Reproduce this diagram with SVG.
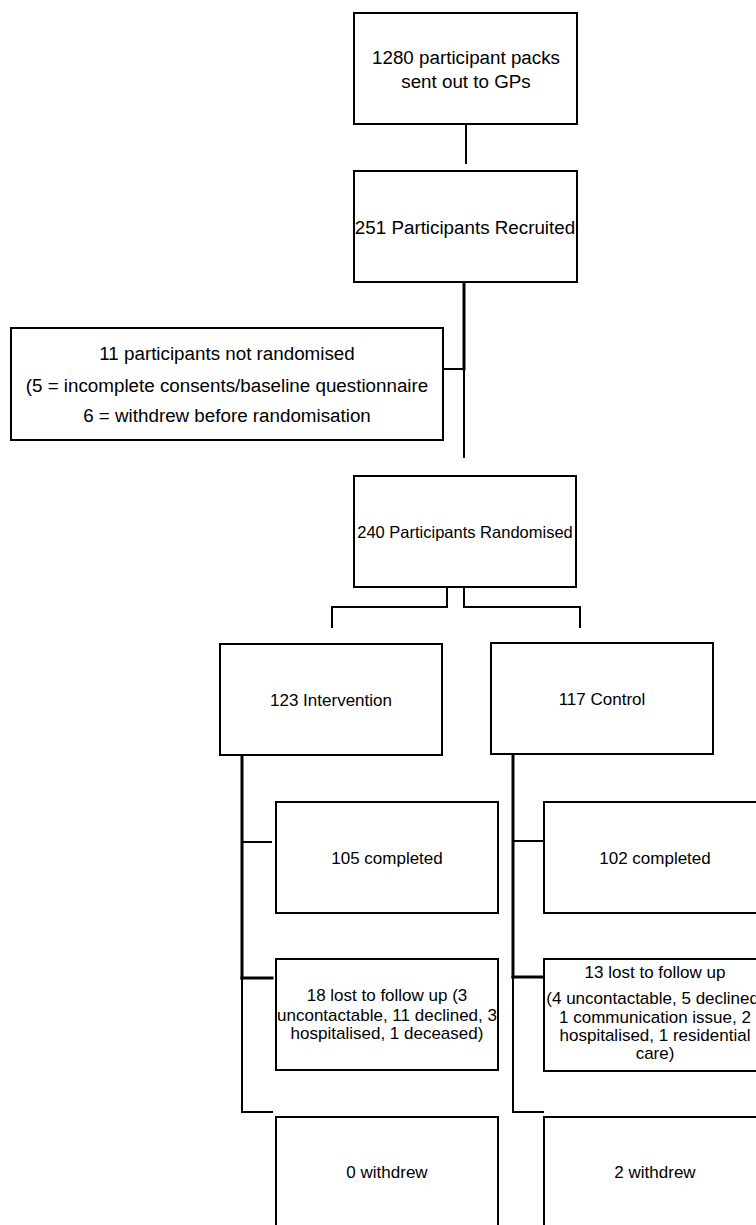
<svg xmlns="http://www.w3.org/2000/svg" width="756" height="1225" viewBox="0 0 756 1225">
<style>
.box{fill:#fff;stroke:#000;stroke-width:2}
.t{font-family:"Liberation Sans",Arial,sans-serif;fill:#000;text-anchor:middle}
.big{font-size:18.8px}
.mid{font-size:17px}
.sm{font-size:16.5px}
.c{fill:none;stroke:#000;stroke-linecap:square}
.thin{stroke-width:2}
.thick{stroke-width:3}
</style>
<rect width="756" height="1225" fill="#fff"/>
<g id="connectors">
<line class="c thin" x1="466" y1="125" x2="466" y2="163"/>
<line class="c thick" x1="464" y1="283" x2="464" y2="369"/>
<line class="c thin" x1="464" y1="369" x2="464" y2="457"/>
<line class="c thin" x1="443" y1="369" x2="464" y2="369"/>
<polyline class="c thin" points="447,588 447,607 332,607 332,627"/>
<polyline class="c thin" points="464,588 464,607 580,607 580,627"/>
<line class="c thick" x1="242" y1="756" x2="242" y2="978"/>
<polyline class="c thin" points="242,978 242,1112 272,1112"/>
<line class="c thin" x1="242" y1="842" x2="271" y2="842"/>
<line class="c thick" x1="242" y1="978" x2="272" y2="978"/>
<line class="c thick" x1="513" y1="755" x2="513" y2="977"/>
<polyline class="c thin" points="513,977 513,1112 543,1112"/>
<line class="c thin" x1="513" y1="841" x2="542" y2="841"/>
<line class="c thick" x1="513" y1="977" x2="543" y2="977"/>
</g>
<g id="packs">
<rect class="box" x="354" y="13" width="223" height="111"/>
<text class="t big" x="466" y="64">1280 participant packs</text>
<text class="t big" x="466" y="88">sent out to GPs</text>
</g>
<g id="recruited">
<rect class="box" x="354" y="171" width="223" height="111"/>
<text class="t big" x="465" y="234">251 Participants Recruited</text>
</g>
<g id="not-randomised">
<rect class="box" x="11" y="328" width="432" height="112"/>
<text class="t big" x="227" y="360">11 participants not randomised</text>
<text class="t big" x="227" y="392">(5 = incomplete consents/baseline questionnaire</text>
<text class="t big" x="227" y="422">6 = withdrew before randomisation</text>
</g>
<g id="randomised">
<rect class="box" x="354" y="476" width="222" height="111"/>
<text class="t sm" x="465" y="538">240 Participants Randomised</text>
</g>
<g id="intervention">
<rect class="box" x="220" y="644" width="222" height="111"/>
<text class="t mid" x="331" y="706">123 Intervention</text>
</g>
<g id="control">
<rect class="box" x="491" y="643" width="222" height="111"/>
<text class="t mid" x="602" y="705">117 Control</text>
</g>
<g id="int-completed">
<rect class="box" x="276" y="802" width="222" height="111"/>
<text class="t mid" x="387" y="864">105 completed</text>
</g>
<g id="ctl-completed">
<rect class="box" x="544" y="802" width="222" height="111"/>
<text class="t mid" x="655" y="864">102 completed</text>
</g>
<g id="int-lost">
<rect class="box" x="276" y="959" width="222" height="111"/>
<text class="t mid" x="387" y="1001">18 lost to follow up (3</text>
<text class="t mid" x="387" y="1021">uncontactable, 11 declined, 3</text>
<text class="t mid" x="387" y="1039">hospitalised, 1 deceased)</text>
</g>
<g id="ctl-lost">
<rect class="box" x="544" y="959" width="222" height="112"/>
<text class="t mid" x="655" y="978">13 lost to follow up</text>
<text class="t mid" x="655" y="1004">(4 uncontactable, 5 declined,</text>
<text class="t mid" x="655" y="1023">1 communication issue, 2</text>
<text class="t mid" x="655" y="1041">hospitalised, 1 residential</text>
<text class="t mid" x="655" y="1059">care)</text>
</g>
<g id="int-withdrew">
<rect class="box" x="276" y="1117" width="222" height="111"/>
<text class="t mid" x="387" y="1178">0 withdrew</text>
</g>
<g id="ctl-withdrew">
<rect class="box" x="544" y="1117" width="222" height="111"/>
<text class="t mid" x="655" y="1178">2 withdrew</text>
</g>
</svg>
